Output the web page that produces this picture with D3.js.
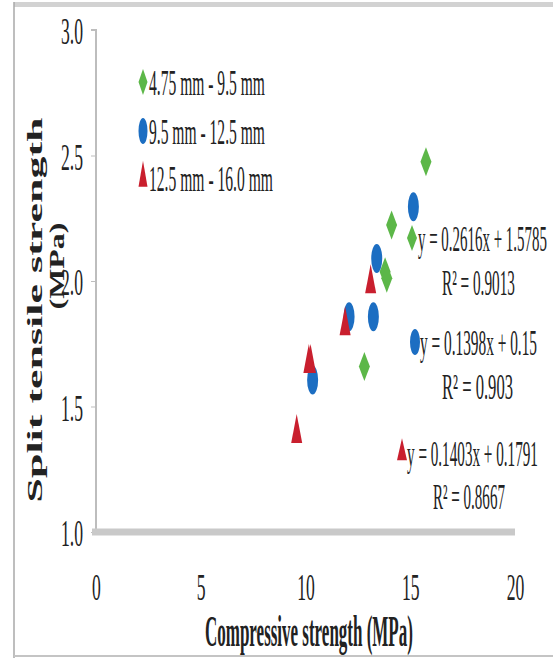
<!DOCTYPE html>
<html>
<head>
<meta charset="utf-8">
<script src="https://cdn.jsdelivr.net/npm/d3@7"></script>
<style>
  html, body { margin: 0; padding: 0; background: #fff; }
  svg text { font-family: "Liberation Serif", "Times New Roman", serif; fill: #222; }
</style>
</head>
<body>
<script>
// series values: [compressive, split tensile]
const series = ["4.75 mm - 9.5 mm", "9.5 mm - 12.5 mm", "12.5 mm - 16.0 mm"];
const green = [[15.75, 2.475], [14.11, 2.223], [13.8, 2.037], [13.88, 2.011], [12.81, 1.659]];
const blue = [[15.15, 2.296], [13.4, 2.09], [13.24, 1.858], [12.08, 1.858], [10.34, 1.606]];
const red = [[13.11, 1.99], [11.89, 1.822], [10.16, 1.672], [10.24, 1.672], [9.58, 1.393]];
const equations = ["y = 0.2616x + 1.5785", "y = 0.1398x + 0.15", "y = 0.1403x + 0.1791"];
const r2 = ["R\u00b2 = 0.9013", "R\u00b2 = 0.903", "R\u00b2 = 0.8667"];
const xTicks = [0, 5, 10, 15, 20];
const yTicks = [1.0, 1.5, 2.0, 2.5, 3.0];

const width = 553, height = 658;
const colors = ["#5cb748", "#1c6ec2", "#c91f2e"];
const shapes = [d3.symbolDiamond, d3.symbolCircle, d3.symbolTriangle];
// bbox of each symbol at size 100, used to stretch the markers
const base = [[10.75, 18.6], [11.28, 11.28], [15.2, 13.16]];

const x = d3.scaleLinear().domain([0, 20]).range([96, 515]);
const y = d3.scaleLinear().domain([1, 3]).range([532, 30]);

const svg = d3.select("body").append("svg")
    .attr("width", width)
    .attr("height", height);

// outer frame
svg.append("rect").attr("x", 14).attr("y", 2).attr("width", width - 14).attr("height", 5).attr("fill", "#d2d2d2");
svg.append("line").attr("x1", 14).attr("x2", 14).attr("y1", 2).attr("y2", 658)
    .attr("stroke", "#a8a8a8").attr("stroke-width", 1.5);
svg.append("line").attr("x1", 14).attr("x2", width).attr("y1", 656).attr("y2", 656)
    .attr("stroke", "#c4c4c4").attr("stroke-width", 2);

function marker(g, i, w, h) {
  g.append("path")
      .attr("d", d3.symbol().type(shapes[i]).size(100)())
      .attr("fill", colors[i])
      .attr("transform", `scale(${w / base[i][0]},${h / base[i][1]})`);
}

// the source picture is squeezed sideways and stretched up, so text gets the same
function label(parent, px, py, str, o) {
  const g = parent.append("g");
  const t = g.append("text")
      .attr("font-size", o.size)
      .attr("font-weight", o.weight || "normal")
      .attr("text-anchor", o.anchor || "start")
      .attr("dominant-baseline", "central")
      .text(str);
  const sx = o.w ? o.w / t.node().getComputedTextLength() : o.sx;
  g.attr("transform", `translate(${px},${py})${o.rotate ? " rotate(" + o.rotate + ")" : ""} scale(${sx},${o.sy})`);
  return g;
}

// y axis
const yAxis = svg.append("g").attr("transform", "translate(96,0)")
    .call(d3.axisLeft(y).tickValues(yTicks).tickSize(5).tickFormat(d3.format(".1f")));
yAxis.select(".domain").attr("stroke", "#bdbdbd").attr("stroke-width", 2)
    .attr("d", `M-5,${y(3)}H0V${y(1)}`);
yAxis.selectAll(".tick line").attr("stroke", "#bdbdbd");
yAxis.selectAll(".tick text").remove();
yAxis.selectAll(".tick").each(function(d) {
  label(d3.select(this), -13, 1, d3.format(".1f")(d), {size: 22, sx: 0.8, sy: 1.7, anchor: "end"});
});

// x axis: thick grey baseline, labels below
const xAxis = svg.append("g").attr("transform", `translate(0,${y(1)})`)
    .call(d3.axisBottom(x).tickValues(xTicks).tickSize(0));
xAxis.select(".domain").attr("stroke", "#c9c9c9").attr("stroke-width", 7)
    .attr("d", `M92,0H${x(20)}`);
xAxis.selectAll(".tick text").remove();
xAxis.selectAll(".tick").each(function(d) {
  label(d3.select(this), 0, 55, d, {size: 22, sx: 0.8, sy: 1.7, anchor: "middle"});
});

// axis titles
label(svg, 205, 631, "Compressive strength  (MPa)", {size: 26, weight: "bold", w: 208, sy: 1.7});
label(svg, 35, 310, "Split tensile strength", {size: 22, weight: "bold", w: 385, sy: 1, anchor: "middle", rotate: -90});
label(svg, 57, 266, "(MPa)", {size: 22, weight: "bold", w: 87, sy: 1, anchor: "middle", rotate: -90});

// data points
[green, blue, red].forEach((pts, i) => {
  const g = svg.append("g");
  pts.forEach(p => {
    const m = g.append("g").attr("transform", `translate(${x(p[0])},${y(p[1])})`);
    marker(m, i, 11, 29);
  });
});

// legend
const legendY = [82, 131, 178];
const legendW = [116, 116, 124];
series.forEach((s, i) => {
  const g = svg.append("g").attr("transform", `translate(143,${legendY[i]})`);
  marker(g, i, 9, 26);
  label(g, 6, 1, s, {size: 22, w: legendW[i], sy: 1.6});
});

// trendline equations with their markers
const eqPos = [[412, 238, 418, 129, 283, 442, 73], [415, 342, 420, 117, 387, 442, 71], [402, 453, 407, 131, 497, 433, 72]];
equations.forEach((e, i) => {
  const [mx, my, tx, tw, ry, rx, rw] = eqPos[i];
  const g = svg.append("g").attr("transform", `translate(${mx},${my})`);
  marker(g, i, 10, i === 2 ? 22 : 26);
  label(svg, tx, my + 1, e, {size: 22, w: tw, sy: 1.65});
  label(svg, rx, ry, r2[i], {size: 22, w: rw, sy: 1.65});
});
</script>
</body>
</html>
